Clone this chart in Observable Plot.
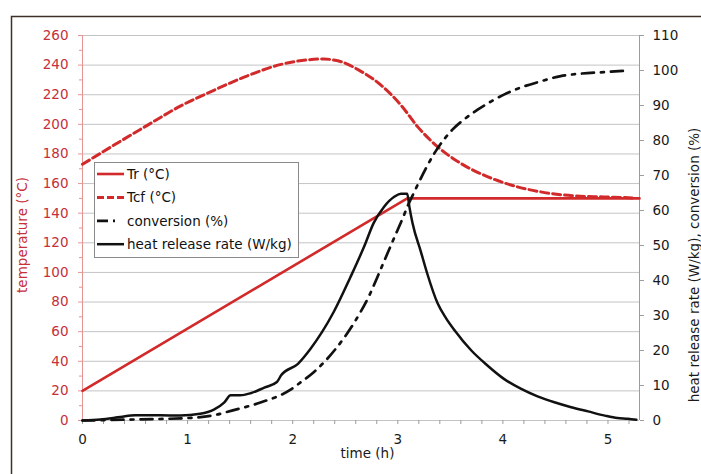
<!DOCTYPE html>
<html><head><meta charset="utf-8">
<script src="https://cdn.jsdelivr.net/npm/d3@7"></script>
<script src="https://cdn.jsdelivr.net/npm/@observablehq/plot@0.6"></script>
<style>body{margin:0;background:#fff} svg{display:block}</style>
</head><body><div id="chart"></div>
<script>
// ---- data ----
const trTime = [0, 3.09, 5.3];
const trTemp = [20, 150, 150];

const tcfTime = [0, 0.3, 0.62, 0.93, 1.25, 1.57, 1.89, 2.2, 2.3, 2.39, 2.46, 2.63, 2.84, 3.03, 3.19, 3.38, 3.6, 3.82, 4.05, 4.36, 4.68, 4.96, 5.25];
const tcfTemp = [173, 186, 199.5, 212.3, 223, 232.8, 240.5, 243.9, 244.2, 243.4, 242.3, 236.6, 226.5, 213, 198.3, 184.8, 173.6, 165.7, 159.6, 154.4, 151.7, 151, 150.3];

const convTime = [0, 0.5, 1.0, 1.25, 1.43, 1.7, 1.98, 2.08, 2.2, 2.41, 2.58, 2.73, 2.85, 2.97, 3.05, 3.09, 3.16, 3.2, 3.36, 3.52, 3.63, 3.76, 3.89, 4.01, 4.14, 4.36, 4.55, 4.74, 5.0, 5.15];
const convPct = [0, 0.3, 0.7, 1.5, 2.9, 5.2, 8.8, 11, 13.8, 20.5, 27.7, 35.8, 44.1, 52.5, 58, 61, 65.5, 68, 76.9, 83.1, 86, 88.8, 91.2, 93.1, 94.8, 96.9, 98.4, 99.1, 99.6, 99.9];

const hrrTime = [0, 0.17, 0.36, 0.5, 0.74, 0.93, 1.12, 1.25, 1.35, 1.41, 1.5, 1.6, 1.73, 1.85, 1.89, 2.05, 2.17, 2.28, 2.39, 2.55, 2.68, 2.77, 2.87, 2.97, 3.03, 3.09, 3.11, 3.14, 3.22, 3.28, 3.38, 3.46, 3.54, 3.7, 3.85, 4.01, 4.17, 4.33, 4.49, 4.65, 4.81, 4.97, 5.09, 5.19, 5.27];
const hrrRate = [0, 0.3, 1.0, 1.5, 1.5, 1.4, 1.9, 3.1, 5.2, 7.2, 7.2, 7.8, 9.4, 11, 12.9, 16.2, 20.5, 25.3, 31, 41, 49.7, 56.4, 61.1, 64, 64.8, 64.8, 61.1, 56.4, 48.2, 42, 33.4, 29.2, 25.8, 20, 15.8, 11.9, 9.1, 6.9, 5.2, 3.8, 2.6, 1.4, 0.7, 0.5, 0.2];

const leftTicks = [0, 20, 40, 60, 80, 100, 120, 140, 160, 180, 200, 220, 240, 260];
const rightTicks = [0, 10, 20, 30, 40, 50, 60, 70, 80, 90, 100, 110];
const xTicks = [0, 1, 2, 3, 4, 5];
const legendLabels = ["Tr (°C)", "Tcf (°C)", "conversion (%)", "heat release rate (W/kg)"];
const xLabel = "time (h)";
const yLeftLabel = "temperature (°C)";
const yRightLabel = "heat release rate (W/kg), conversion (%)";

// ---- helpers ----
const k = 260 / 110; // right axis -> left axis units
const zipRows = (xs, ys, f = v => v) => xs.map((x, i) => ({x, y: f(ys[i])}));
const tr = zipRows(trTime, trTemp);
const tcf = zipRows(tcfTime, tcfTemp);
const conv = zipRows(convTime, convPct, v => v * k);
const hrr = zipRows(hrrTime, hrrRate, v => v * k);
const leftMinor = d3.range(10, 260, 20);
const xMinor = d3.range(1, 27).map(i => i * 0.2).filter(v => Math.abs(v - Math.round(v)) > 1e-6);

const RED = "#d22a2a";
const REDTXT = "#c5303a";
const REDAX = "#e59494";
const GRID = "#c4c4c4";
const FONT = "DejaVu Sans";

const plot = Plot.plot({
  width: 701, height: 474,
  marginLeft: 82, marginRight: 62, marginTop: 35, marginBottom: 54,
  style: `font-family: '${FONT}'; font-size: 13px; background: white;`,
  x: {domain: [0, 5.3]},
  y: {domain: [0, 260]},
  marks: [
    Plot.gridY(leftTicks, {stroke: GRID, strokeOpacity: 1}),
    Plot.ruleX([5.3], {stroke: "#9c9c9c"}),
    Plot.axisX(xMinor, {tickSize: 4, tickFormat: () => "", stroke: "#9c9c9c", label: null}),
    Plot.axisX(xTicks, {tickSize: 4, tickPadding: 10, stroke: "#9c9c9c", fill: "#1a1a1a", label: null, fontSize: 13.5}),
    Plot.axisY(leftMinor, {anchor: "left", tickSize: 3, tickFormat: () => "", stroke: REDAX, label: null}),
    Plot.axisY(leftTicks, {anchor: "left", tickSize: 4, tickPadding: 10, stroke: REDAX, fill: REDTXT, label: null, fontSize: 13.5}),
    Plot.axisY(rightTicks.map(v => v * k), {anchor: "right", tickSize: 4, tickPadding: 9, tickFormat: d => String(Math.round(d / k)), stroke: "#9c9c9c", fill: "#1a1a1a", label: null, fontSize: 13.5}),
    Plot.ruleX([0], {stroke: REDAX}),
    Plot.line(tcf, {x: "x", y: "y", stroke: RED, strokeWidth: 3, strokeDasharray: "8,4", curve: "monotone-x"}),
    Plot.line(tr, {x: "x", y: "y", stroke: RED, strokeWidth: 2.6}),
    Plot.line(conv, {x: "x", y: "y", stroke: "#111", strokeWidth: 2.7, strokeDasharray: "12,7,3,7", curve: "monotone-x"}),
    Plot.line(hrr, {x: "x", y: "y", stroke: "#111", strokeWidth: 2.5, curve: "monotone-x"}),
    Plot.text([yLeftLabel], {frameAnchor: "left", textAnchor: "middle", dx: -60, dy: 7, rotate: -90, fill: REDTXT, fontSize: 13.5}),
    Plot.text([xLabel], {frameAnchor: "bottom", textAnchor: "middle", dx: 6.5, dy: 37, fill: "#1a1a1a", fontSize: 13.5}),
    Plot.text([yRightLabel], {frameAnchor: "right", textAnchor: "middle", dx: 55, dy: 37, rotate: -90, fill: "#1a1a1a", fontSize: 13.5})
  ]
});
document.getElementById("chart").append(plot);

// ---- legend + outer frame ----
const svg = d3.select(plot);
const lg = svg.append("g").attr("text-anchor", "start");
lg.append("rect").attr("x", 94.5).attr("y", 162.5).attr("width", 204).attr("height", 95)
  .attr("fill", "white").attr("stroke", "#8a8a8a");
const legendStyles = [
  {stroke: RED, w: 2.6, dash: null},
  {stroke: RED, w: 3, dash: "7,3"},
  {stroke: "#111", w: 2.7, dash: "11,5,2,20"},
  {stroke: "#111", w: 2.5, dash: null}
];
legendLabels.forEach((lab, i) => {
  const y = 174 + i * 23.4;
  const s = legendStyles[i];
  const ln = lg.append("line").attr("x1", 97).attr("x2", 124).attr("y1", y).attr("y2", y)
    .attr("stroke", s.stroke).attr("stroke-width", s.w);
  if (s.dash) ln.attr("stroke-dasharray", s.dash);
  lg.append("text").attr("x", 127).attr("y", y).attr("dy", "0.35em").attr("text-anchor", "start")
    .attr("font-family", FONT).attr("font-size", 13.5).attr("fill", "#111").text(lab);
});
svg.append("rect").attr("x", 11.5).attr("y", 16.5).attr("width", 700).attr("height", 470)
  .attr("fill", "none").attr("stroke", "#3d3028").attr("stroke-width", 1.5);
</script>
</body></html>
